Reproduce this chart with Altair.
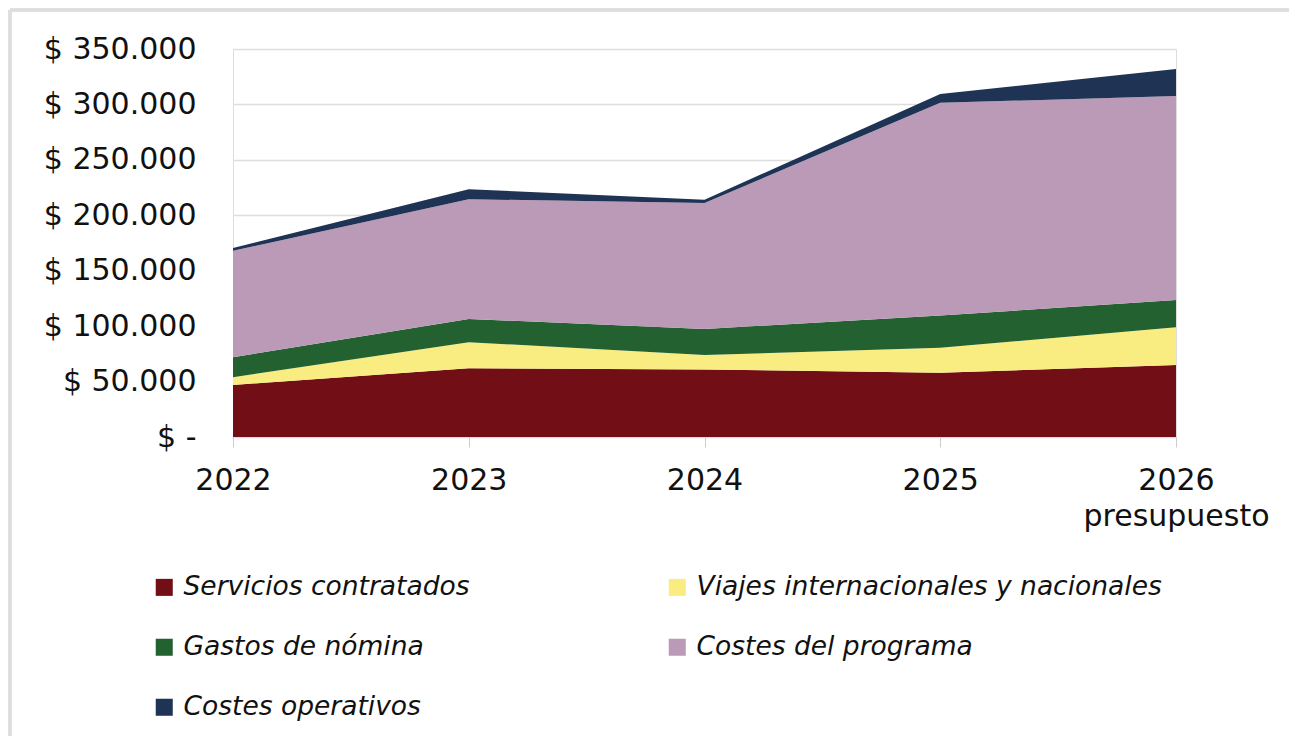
import altair as alt
import pandas as pd

years = ["2022", "2023", "2024", "2025", "2026"]
series = [
    "Servicios contratados",
    "Viajes internacionales y nacionales",
    "Gastos de nómina",
    "Costes del programa",
    "Costes operativos",
]
servicios = [47000, 62000, 61000, 58000, 65000]
viajes = [7000, 23500, 13000, 22500, 34000]
nomina = [18000, 21000, 23500, 29000, 24500]
programa = [96000, 108000, 113500, 192000, 184000]
operativos = [2500, 9000, 3000, 8000, 24500]
colors = ["#720f16", "#f9ed82", "#236130", "#bb9ab8", "#1f3355"]

values = [servicios, viajes, nomina, programa, operativos]
rows = []
for si, (name, vals) in enumerate(zip(series, values)):
    for y, v in zip(years, vals):
        rows.append({"year": y, "serie": name, "value": v, "order": si})
df = pd.DataFrame(rows)

FONT = "DejaVu Sans"

area = alt.Chart(df).mark_area(opacity=1).encode(
    x=alt.X(
        "year:O",
        scale=alt.Scale(type="point", padding=0),
        axis=alt.Axis(
            title=None,
            labelAngle=0,
            labelFont=FONT,
            labelFontSize=30,
            labelColor="#111",
            labelPadding=18,
            labelLimit=400,
            tickColor="#cccccc",
            tickSize=10,
            domain=False,
            labelExpr="datum.label == '2026' ? ['2026', 'presupuesto'] : datum.label",
            labelLineHeight=36,
        ),
    ),
    y=alt.Y(
        "value:Q",
        stack="zero",
        scale=alt.Scale(domain=[0, 350000], nice=False),
        axis=alt.Axis(
            title=None,
            values=[0, 50000, 100000, 150000, 200000, 250000, 300000, 350000],
            labelFont=FONT,
            labelFontSize=30,
            labelColor="#111",
            labelPadding=37,
            ticks=False,
            domain=False,
            gridColor="#dddddd",
            gridWidth=1.5,
            labelExpr="datum.value == 0 ? '$ -' : '$ ' + replace(format(datum.value, ','), ',', '.')",
        ),
    ),
    color=alt.Color(
        "serie:N",
        scale=alt.Scale(domain=series, range=colors),
        legend=alt.Legend(
            title=None,
            orient="none",
            direction="horizontal",
            legendX=-82,
            legendY=137 + 388,
            columns=2,
            columnPadding=194,
            rowPadding=33,
            symbolType="square",
            symbolSize=290,
            symbolStrokeWidth=0,
            labelFont=FONT,
            labelFontStyle="italic",
            labelFontSize=26.5,
            labelColor="#111",
            labelOffset=6,
            labelLimit=600,
        ),
    ),
    order=alt.Order("order:Q", sort="ascending"),
)

frame_top = alt.Chart(df).mark_rule(color="#dddddd", strokeWidth=2.5).encode(
    x=alt.value(-223), x2=alt.value(1200), y=alt.value(-39)
)
frame_left = alt.Chart(df).mark_rule(color="#dddddd", strokeWidth=2.5).encode(
    x=alt.value(-223), y=alt.value(-39), y2=alt.value(800)
)

chart = (
    alt.layer(frame_top, frame_left, area)
    .properties(
        width=943,
        height=388,
        padding={"left": 225, "top": 41, "right": 113, "bottom": 299},
        autosize=alt.AutoSizeParams(type="none"),
    )
    .configure_view(stroke=None)
    .configure(background="white")
)

chart.save("out.html", embed_options={"renderer": "svg", "actions": False})
